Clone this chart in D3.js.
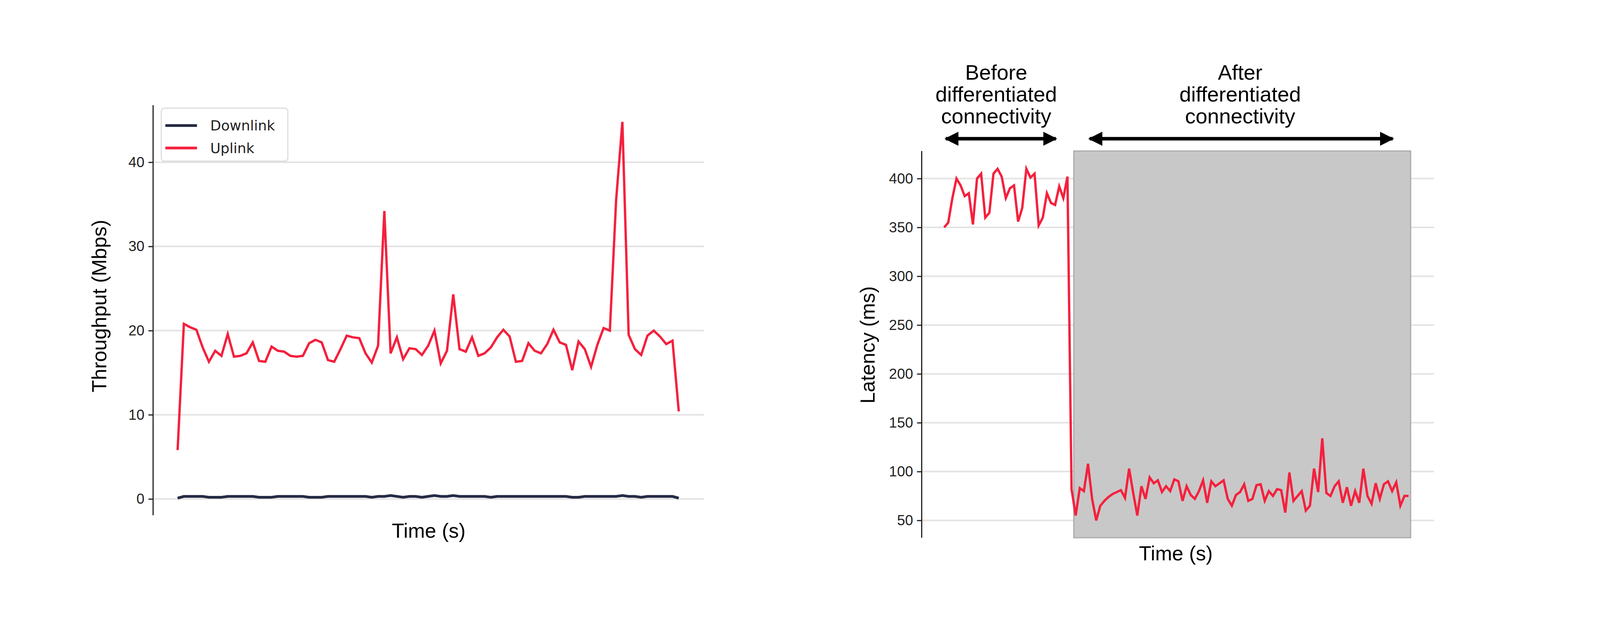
<!DOCTYPE html>
<html><head><meta charset="utf-8">
<script src="https://cdn.jsdelivr.net/npm/d3@7"></script>
<style>body{margin:0;background:#fff}svg{font-family:"DejaVu Sans",sans-serif}</style>
</head><body>
<script>
const uplink=[5.8,20.8,20.4,20.1,18,16.3,17.6,17,19.6,16.9,17,17.3,18.6,16.4,16.3,18.1,17.6,17.5,17,16.9,17,18.5,18.9,18.6,16.5,16.3,17.8,19.4,19.2,19.1,17.3,16.2,18.2,34.2,17.3,19.2,16.6,17.9,17.8,17.1,18.2,20,16.1,17.6,24.3,17.8,17.5,19.2,17,17.3,18,19.2,20.1,19.3,16.3,16.4,18.5,17.6,17.3,18.4,20.1,18.6,18.3,15.3,18.7,17.8,15.7,18.3,20.3,20,35.5,44.8,19.5,17.8,17.1,19.4,20,19.3,18.4,18.8,10.4];
const downlink=[0.1,0.3,0.3,0.3,0.3,0.2,0.2,0.2,0.3,0.3,0.3,0.3,0.3,0.2,0.2,0.2,0.3,0.3,0.3,0.3,0.3,0.2,0.2,0.2,0.3,0.3,0.3,0.3,0.3,0.3,0.3,0.2,0.3,0.3,0.4,0.3,0.2,0.3,0.3,0.2,0.3,0.4,0.3,0.3,0.4,0.3,0.3,0.3,0.3,0.3,0.2,0.3,0.3,0.3,0.3,0.3,0.3,0.3,0.3,0.3,0.3,0.3,0.3,0.2,0.2,0.3,0.3,0.3,0.3,0.3,0.3,0.4,0.3,0.3,0.2,0.3,0.3,0.3,0.3,0.3,0.1];
const latency=[350,355,380,400,393,382,385,353,400,405,360,365,405,410,402,380,390,393,356,370,410,401,405,352,360,385,375,373,392,380,402,
82,55,83,80,108,72,50,65,70,74,77,79,81,73,103,78,55,85,72,94,88,91,79,85,80,92,90,70,85,76,72,80,91,68,90,85,88,91,72,65,76,79,87,70,72,86,87,70,80,75,82,81,58,99,70,75,80,60,65,103,79,134,78,75,85,90,68,84,65,80,68,103,75,67,88,72,87,90,80,89,65,75,75];
const thrTicks=[0,10,20,30,40];
const latTicks=[50,100,150,200,250,300,350,400];
const labels={thrY:"Throughput (Mbps)",x:"Time (s)",latY:"Latency (ms)",before:["Before","differentiated","connectivity"],after:["After","differentiated","connectivity"]};
const S=2.613;
const svg=d3.select("body").append("svg").attr("width",4173).attr("height",1598);
const red="#f5203d",navy="#262b45",grid="#e3e3e3";
const AR="Arial,Liberation Sans";

// Left chart
const xL=d3.scaleLinear().domain([0,uplink.length-1]).range([174*S,665*S]);
const yL=d3.scaleLinear().domain([0,40]).range([489*S,159*S]);
const gL=svg.append("g");
gL.selectAll(".g").data(thrTicks).join("line").attr("x1",150*S).attr("x2",690*S).attr("y1",d=>yL(d)).attr("y2",d=>yL(d)).attr("stroke",grid).attr("stroke-width",4);
const axL=gL.append("g").attr("transform",`translate(${150*S},0)`).call(d3.axisLeft(yL).tickValues(thrTicks).tickSize(12).tickPadding(10));
axL.select(".domain").remove();
axL.append("line").attr("y1",103*S).attr("y2",505*S).attr("stroke","#222").attr("stroke-width",3);
axL.selectAll("text").attr("font-size",37).attr("fill","#222");
axL.selectAll(".tick line").attr("stroke","#222").attr("stroke-width",3);
const line=(x,y)=>d3.line().x((d,i)=>x(i)).y(d=>y(d));
gL.append("path").datum(downlink).attr("d",line(xL,yL)).attr("fill","none").attr("stroke",navy).attr("stroke-width",7);
gL.append("path").datum(uplink).attr("d",line(xL,yL)).attr("fill","none").attr("stroke",red).attr("stroke-width",6);
gL.append("text").attr("transform",`translate(${104*S},${300*S}) rotate(-90)`).attr("text-anchor","middle").attr("font-size",52).attr("font-family",AR).text(labels.thrY);
gL.append("text").attr("x",420*S).attr("y",527*S).attr("text-anchor","middle").attr("font-size",52).attr("font-family",AR).text(labels.x);
const lg=gL.append("g");
lg.append("rect").attr("x",158*S).attr("y",106*S).attr("width",124*S).attr("height",52*S).attr("rx",8).attr("fill","#fff").attr("stroke","#ddd").attr("stroke-width",3);
[["Downlink",navy,123],["Uplink",red,145]].forEach(([t,c,y])=>{
lg.append("line").attr("x1",162*S).attr("x2",193*S).attr("y1",y*S).attr("y2",y*S).attr("stroke",c).attr("stroke-width",7);
lg.append("text").attr("x",206*S).attr("y",y*S+13).attr("font-size",36).attr("fill","#222").text(t);});

// Right chart
const xR=d3.scaleLinear().domain([0,latency.length-1]).range([925*S,1380*S]);
const yR=d3.scaleLinear().domain([50,400]).range([510*S,175*S]);
const gR=svg.append("g");
gR.selectAll(".g").data(latTicks).join("line").attr("x1",903*S).attr("x2",1405*S).attr("y1",d=>yR(d)).attr("y2",d=>yR(d)).attr("stroke",grid).attr("stroke-width",4);
gR.append("rect").attr("x",1052*S).attr("y",148*S).attr("width",330*S).attr("height",379*S).attr("fill","#c8c8c8").attr("stroke","#aaa").attr("stroke-width",3);
const axR=gR.append("g").attr("transform",`translate(${903*S},0)`).call(d3.axisLeft(yR).tickValues(latTicks).tickSize(12).tickPadding(10));
axR.select(".domain").remove();
axR.append("line").attr("y1",148*S).attr("y2",527*S).attr("stroke","#222").attr("stroke-width",3);
axR.selectAll("text").attr("font-size",37).attr("fill","#222");
axR.selectAll(".tick line").attr("stroke","#222").attr("stroke-width",3);
gR.append("path").datum(latency).attr("d",line(xR,yR)).attr("fill","none").attr("stroke",red).attr("stroke-width",6);
gR.append("text").attr("transform",`translate(${857*S},${338*S}) rotate(-90)`).attr("text-anchor","middle").attr("font-size",52).attr("font-family",AR).text(labels.latY);
gR.append("text").attr("x",1152*S).attr("y",549*S).attr("text-anchor","middle").attr("font-size",52).attr("font-family",AR).text(labels.x);
const defs=svg.append("defs");
defs.append("marker").attr("id","ah").attr("viewBox","0 0 10 10").attr("refX",9).attr("refY",5).attr("markerWidth",4).attr("markerHeight",4).attr("orient","auto-start-reverse").attr("markerUnits","strokeWidth").append("path").attr("d","M0,0L10,5L0,10z").attr("fill","#000");
[[917,1044,976,labels.before],[1058,1374,1215,labels.after]].forEach(([a,b,c,t])=>{
gR.append("line").attr("x1",a*S+25).attr("x2",b*S-25).attr("y1",136*S).attr("y2",136*S).attr("stroke","#000").attr("stroke-width",9).attr("marker-start","url(#ah)").attr("marker-end","url(#ah)");
t.forEach((s,i)=>gR.append("text").attr("x",c*S).attr("y",(78+i*21.5)*S).attr("text-anchor","middle").attr("font-size",54).attr("font-family",AR).text(s));});
</script>
</body></html>
